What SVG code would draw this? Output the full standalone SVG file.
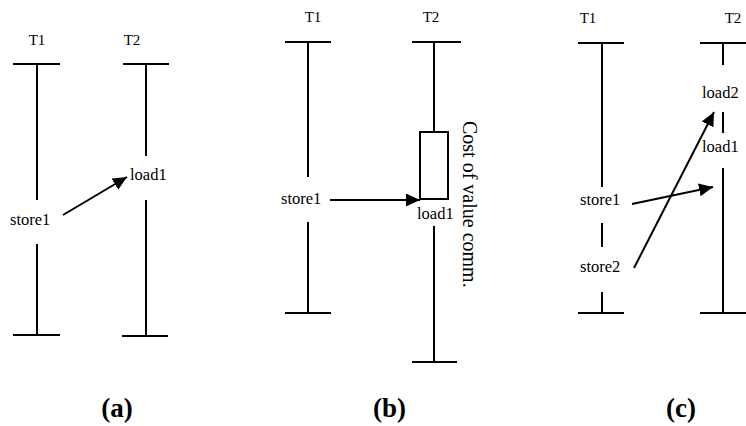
<svg xmlns="http://www.w3.org/2000/svg" width="746" height="426" viewBox="0 0 746 426">
<defs>
<style>
.ln{stroke:#000;stroke-width:2;fill:none}
.t{font-family:"Liberation Serif","Times New Roman",serif;font-size:15px;fill:#000;text-anchor:middle}
.lb{font-family:"Liberation Serif","Times New Roman",serif;font-size:16.5px;fill:#000}
.cap{font-family:"Liberation Serif","Times New Roman",serif;font-size:27px;font-weight:bold;fill:#000;text-anchor:middle}
.rot{font-family:"Liberation Serif","Times New Roman",serif;font-size:20px;fill:#000}
</style>
<marker id="ah" markerUnits="userSpaceOnUse" markerWidth="14" markerHeight="13" refX="14" refY="6.5" orient="auto">
<path d="M0,0 L14,6.5 L0,13 z" fill="#000"/>
</marker>
</defs>
<rect width="746" height="426" fill="#fff"/>

<!-- (a) -->
<g id="a-T1">
<text class="t" x="37" y="45">T1</text>
<path class="ln" d="M13,64 H60 M37,64 V200 M37,244 V335 M13,335 H60"/>
<text class="lb" x="10" y="225">store1</text>
</g>
<g id="a-T2">
<text class="t" x="132" y="45">T2</text>
<path class="ln" d="M123,64 H169 M146,64 V156 M146,200 V336 M122,336 H168"/>
<text class="lb" x="130" y="180">load1</text>
</g>
<text class="cap" x="117" y="417">(a)</text>

<!-- (b) -->
<g id="b-T1">
<text class="t" x="313" y="22">T1</text>
<path class="ln" d="M285,42 H331 M308,42 V177 M308,222 V313 M285,313 H331"/>
<text class="lb" x="281" y="204">store1</text>
</g>
<g id="b-T2">
<text class="t" x="431" y="22">T2</text>
<path class="ln" d="M412,42 H461 M434,42 V132 M434,226 V362 M412,362 H457"/>
<rect class="ln" x="420" y="132" width="28" height="67"/>
<text class="lb" x="417" y="219">load1</text>
<text class="rot" transform="translate(463,121) rotate(90)">Cost of value comm.</text>
</g>
<text class="cap" x="389.5" y="417">(b)</text>

<!-- (c) -->
<g id="c-T1">
<text class="t" x="588" y="23">T1</text>
<path class="ln" d="M578,43 H624 M602,43 V187 M602,223 V247 M602,292 V313 M578,313 H624"/>
<text class="lb" x="580" y="205">store1</text>
<text class="lb" x="580" y="272">store2</text>
</g>
<g id="c-T2">
<text class="t" x="733" y="23">T2</text>
<path class="ln" d="M700,43 H746 M723,43 V65 M723,112 V133 M723,168 V313 M700,313 H746"/>
<text class="lb" x="702" y="98">load2</text>
<text class="lb" x="702" y="152">load1</text>
</g>
<text class="cap" x="681" y="417">(c)</text>

<g id="connectors">
<path class="ln" d="M63,215 L127,177" marker-end="url(#ah)"/>
<path class="ln" d="M330,200 L420,200" marker-end="url(#ah)"/>
<path class="ln" d="M632,204 L713,187" marker-end="url(#ah)"/>
<path class="ln" d="M634,268 L714,112" marker-end="url(#ah)"/>
</g>
</svg>
